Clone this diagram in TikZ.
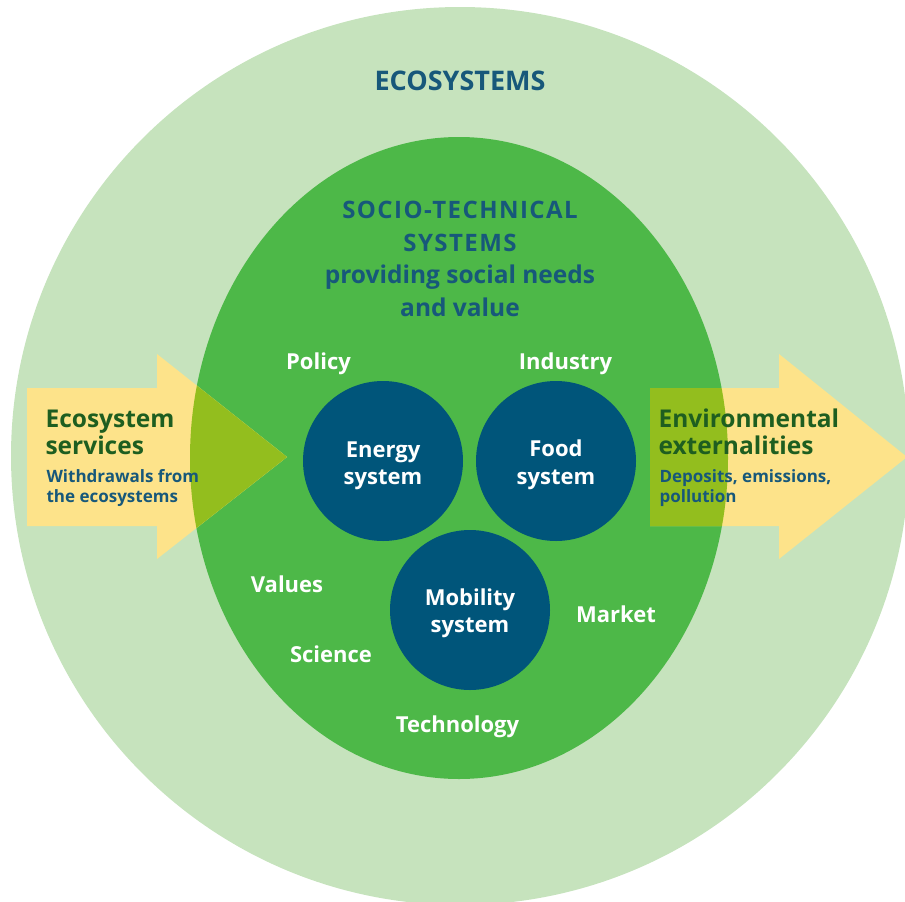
\documentclass[tikz,border=0pt]{standalone}
\usepackage{fontspec}
\setmainfont{Open Sans}
\definecolor{ecolight}{HTML}{C6E3BD}
\definecolor{ecomid}{HTML}{4DB848}
\definecolor{arrowyellow}{HTML}{FDE38A}
\definecolor{arrowolive}{HTML}{93BE1E}
\definecolor{sysnavy}{HTML}{00557A}
\definecolor{titleblue}{HTML}{17587A}
\definecolor{titlegreen}{HTML}{1E5E20}
\tikzset{
  sysdisc/.style={circle, fill=sysnavy, minimum size=160pt, inner sep=0pt},
  whitelbl/.style={anchor=base, text=white, font=\fontsize{22}{26}\selectfont\bfseries},
  headlbl/.style={anchor=base, text=titleblue, font=\fontsize{24.5}{28}\selectfont\bfseries},
  capslbl/.style={anchor=base, text=titleblue, font=\fontsize{24}{28}\selectfont\bfseries\addfontfeatures{LetterSpace=6}},
  arrtitle/.style={anchor=base west, text=titlegreen, font=\fontsize{24.5}{28}\selectfont\bfseries},
  arrsub/.style={anchor=base west, text=titleblue, font=\fontsize{17}{20}\selectfont\bfseries},
}
\begin{document}
\begin{tikzpicture}[x=1pt,y=-1pt]
\useasboundingbox (0,0) rectangle (905,902);
\clip (0,0) rectangle (905,902);
% outer ecosystem disc
\fill[ecolight] (460,456) circle (449);
% socio-technical ellipse
\fill[ecomid] (459,458) ellipse [x radius=269, y radius=321];
% arrows
\fill[arrowyellow] (27,388) -- (157,388) -- (157,354) -- (287,457) -- (157,559) -- (157,526) -- (27,526) -- cycle;
\fill[arrowyellow] (650,388) -- (779,388) -- (779,354) -- (907,457) -- (779,559) -- (779,526) -- (650,526) -- cycle;
\begin{scope}
\clip (459,458) ellipse [x radius=269, y radius=321];
\fill[arrowolive] (27,388) -- (157,388) -- (157,354) -- (287,457) -- (157,559) -- (157,526) -- (27,526) -- cycle;
\fill[arrowolive] (650,388) -- (779,388) -- (779,354) -- (907,457) -- (779,559) -- (779,526) -- (650,526) -- cycle;
\end{scope}
% system discs
\node[sysdisc] (energy) at (383,461) {};
\node[sysdisc] (food) at (556,461) {};
\node[sysdisc] (mobility) at (470,610) {};
\node[whitelbl] (energy1) at (383,457) {Energy};
\node[whitelbl] (energy2) at (383,484) {system};
\node[whitelbl] (food1) at (556,456) {Food};
\node[whitelbl] (food2) at (556,484) {system};
\node[whitelbl] (mob1) at (470,605) {Mobility};
\node[whitelbl] (mob2) at (470,632) {system};
% headings
\node[headlbl, font=\fontsize{27}{30}\selectfont\bfseries] (eco) at (460,90.5) {ECOSYSTEMS};
\node[capslbl] (st1) at (460,218) {SOCIO-TECHNICAL};
\node[capslbl] (st2) at (460,251) {SYSTEMS};
\node[headlbl] (st3) at (460,283) {providing social needs};
\node[headlbl] (st4) at (460,316.5) {and value};
% white labels
\node[whitelbl] (policy) at (318.5,369) {Policy};
\node[whitelbl] (industry) at (565.5,369) {Industry};
\node[whitelbl] (values) at (287,592) {Values};
\node[whitelbl] (science) at (331,662) {Science};
\node[whitelbl] (market) at (616,622) {Market};
\node[whitelbl] (technology) at (457.5,732) {Technology};
% arrow texts
\node[arrtitle] (es1) at (42,427) {Ecosystem};
\node[arrtitle] (es2) at (42,454) {services};
\node[arrsub] (es3) at (43,482) {Withdrawals from};
\node[arrsub] (es4) at (43,502.5) {the ecosystems};
\node[arrtitle] (ee1) at (655,427) {Environmental};
\node[arrtitle] (ee2) at (655,454) {externalities};
\node[arrsub] (ee3) at (656,482) {Deposits, emissions,};
\node[arrsub] (ee4) at (656,502.5) {pollution};
\end{tikzpicture}
\end{document}
